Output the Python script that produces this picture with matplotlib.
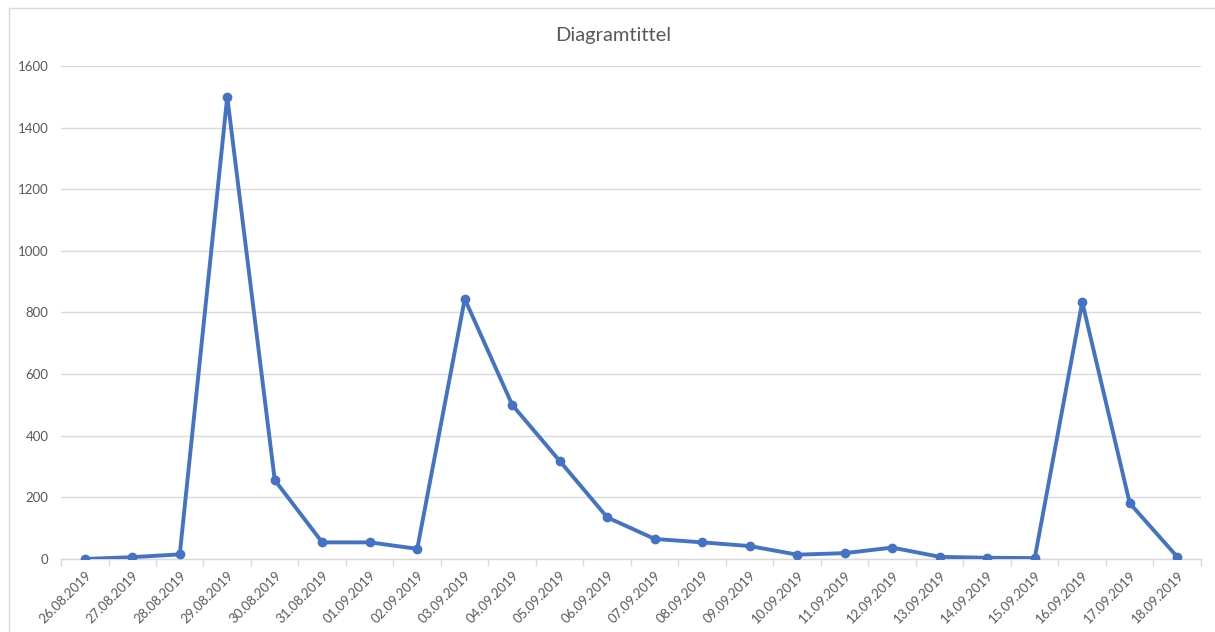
import matplotlib
matplotlib.use("Agg")
import matplotlib.pyplot as plt
from matplotlib.patches import Rectangle

dates = ["26.08.2019", "27.08.2019", "28.08.2019", "29.08.2019", "30.08.2019",
         "31.08.2019", "01.09.2019", "02.09.2019", "03.09.2019", "04.09.2019",
         "05.09.2019", "06.09.2019", "07.09.2019", "08.09.2019", "09.09.2019",
         "10.09.2019", "11.09.2019", "12.09.2019", "13.09.2019", "14.09.2019",
         "15.09.2019", "16.09.2019", "17.09.2019", "18.09.2019"]
values = [0, 6, 15, 1500, 256, 54, 54, 33, 844, 500,
          318, 135, 65, 54, 42, 14, 19, 37, 7, 4,
          3, 834, 181, 7]
y_ticks = [0, 200, 400, 600, 800, 1000, 1200, 1400, 1600]
title = "Diagramtittel"

plt.rcParams['font.family'] = ['Lato', 'DejaVu Sans']
text_grey = "#595959"
grid_grey = "#d9d9d9"
line_blue = "#4472C4"

W, H = 1215, 632
fig = plt.figure(figsize=(W / 100, H / 100), dpi=100)
fig.patch.set_facecolor("white")

# chart area frame
fig.add_artist(Rectangle((9 / W, -0.1), 1.2, 1 - 8 / H + 0.1,
                         transform=fig.transFigure, fill=False,
                         edgecolor=grid_grey, linewidth=1.0))

ax = fig.add_axes([61 / W, 73 / H, (1201 - 61) / W, (559 - 66) / H])
x = list(range(len(dates)))
ax.plot(x, values, color=line_blue, linewidth=2.8, marker="o",
        markersize=6, markerfacecolor=line_blue, markeredgecolor=line_blue,
        solid_joinstyle="round", zorder=3)

ax.set_xlim(-0.5, len(dates) - 0.5)
ax.set_ylim(0, 1600)
ax.set_yticks(y_ticks)
ax.set_yticklabels([str(v) for v in y_ticks], color=text_grey, fontsize=9.5)
ax.tick_params(axis="y", length=0, pad=9)

ax.set_xticks(x)
ax.set_xticklabels(dates, rotation=45, ha="right", rotation_mode="anchor",
                   color=text_grey, fontsize=9.5)
ax.tick_params(axis="x", which="major", length=0, pad=7)
ax.set_xticks([i - 0.5 for i in range(len(dates) + 1)], minor=True)
ax.tick_params(axis="x", which="minor", length=5, color=grid_grey, width=1)

ax.grid(axis="y", color=grid_grey, linewidth=1)
ax.set_axisbelow(True)
for side in ("top", "right", "left"):
    ax.spines[side].set_visible(False)
ax.spines["bottom"].set_color(grid_grey)
ax.spines["bottom"].set_linewidth(1)

fig.text(613 / W, 1 - 35 / H, title, ha="center", va="center",
         fontsize=14.5, color=text_grey)

fig.savefig("out.png", dpi=100, facecolor="white")
